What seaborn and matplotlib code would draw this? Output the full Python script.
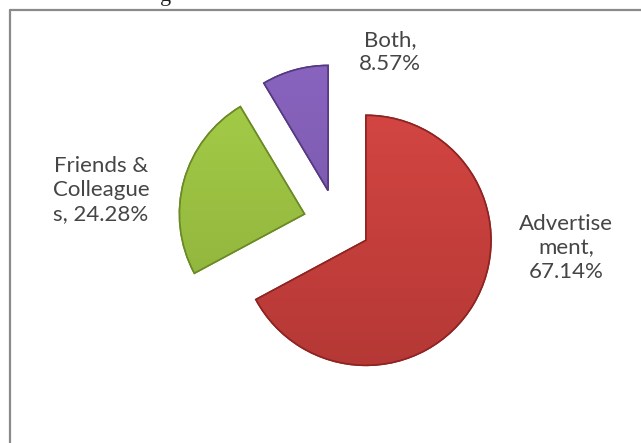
import matplotlib
matplotlib.use("Agg")
import matplotlib.pyplot as plt
import seaborn as sns
import numpy as np
from matplotlib.lines import Line2D

sns.set_theme(style="white")
plt.rcParams['font.family'] = ['Lato', 'DejaVu Sans']

# data
categories = ["Advertisement", "Friends & Colleagues", "Both"]
values = [67.14, 24.28, 8.57]
label_texts = ["Advertise\nment,\n67.14%", "Friends &\nColleague\ns, 24.28%", "Both,\n8.57%"]
colors = ["#C63D3A", "#97BD3E", "#7B58AE"]
edge_colors = ["#8E2422", "#6A8A25", "#553A82"]

W, H = 641, 443
fig = plt.figure(figsize=(W / 100, H / 100), dpi=100)
fig.patch.set_facecolor("white")

ax = fig.add_axes([0, 0, 1, 1])
cx, cy, R = 337, 223, 125
wedges, _ = ax.pie(values, startangle=90, counterclock=False, colors=colors,
                   explode=[0.27, 0.27, 0.27], radius=1,
                   wedgeprops=dict(linewidth=1.2))
for w, ec in zip(wedges, edge_colors):
    w.set_edgecolor(ec)

# vertical gradient shading clipped to each wedge
grad = np.linspace(0, 1, 256).reshape(-1, 1)
for w, c in zip(wedges, colors):
    rgb = np.array(matplotlib.colors.to_rgb(c))
    top = np.clip(rgb * 1.08 + 0.03, 0, 1)
    bot = rgb * 0.88
    img = np.zeros((256, 1, 4))
    img[..., :3] = (top * (1 - grad) + bot * grad)[:, None, :].reshape(256, 1, 3)
    img[..., 3] = 1
    im = ax.imshow(img, extent=(-1.6, 1.6, -1.6, 1.6), aspect="auto", zorder=w.get_zorder() + 0.1)
    im.set_clip_path(w)
    w.set_zorder(w.get_zorder())
# redraw edges on top
for w, ec in zip(wedges, edge_colors):
    p = matplotlib.patches.Wedge(w.center, w.r, w.theta1, w.theta2, facecolor="none",
                                 edgecolor=ec, linewidth=1.2, zorder=5)
    ax.add_patch(p)

ax.set_aspect("auto")
ax.set_xlim(-cx / R, (W - cx) / R)
ax.set_ylim(-(H - cy) / R, cy / R)
ax.axis("off")

# labels
label_pos = [((566 - cx) / R, (cy - 248) / R),
             ((101 - cx) / R, (cy - 190) / R),
             ((390 - cx) / R, (cy - 52) / R)]
for t, (x, y) in zip(label_texts, label_pos):
    ax.text(x, y, t, ha="center", va="center", fontsize=16, color="#454545",
            linespacing=1.25)

# frame lines (top and left)
fig.add_artist(Line2D([10 / W, 1], [1 - 10 / H, 1 - 10 / H], color="#8A8A8A", lw=1.6))
fig.add_artist(Line2D([10 / W, 10 / W], [0, 1 - 10 / H], color="#8A8A8A", lw=1.6))

# cut-off title fragment above the frame
fig.text(160 / W, 1 - 1 / H, "g", family=["Liberation Serif", "DejaVu Serif"],
         fontsize=16, color="#222222", va="baseline", ha="left")

fig.savefig("out.png", dpi=100)
